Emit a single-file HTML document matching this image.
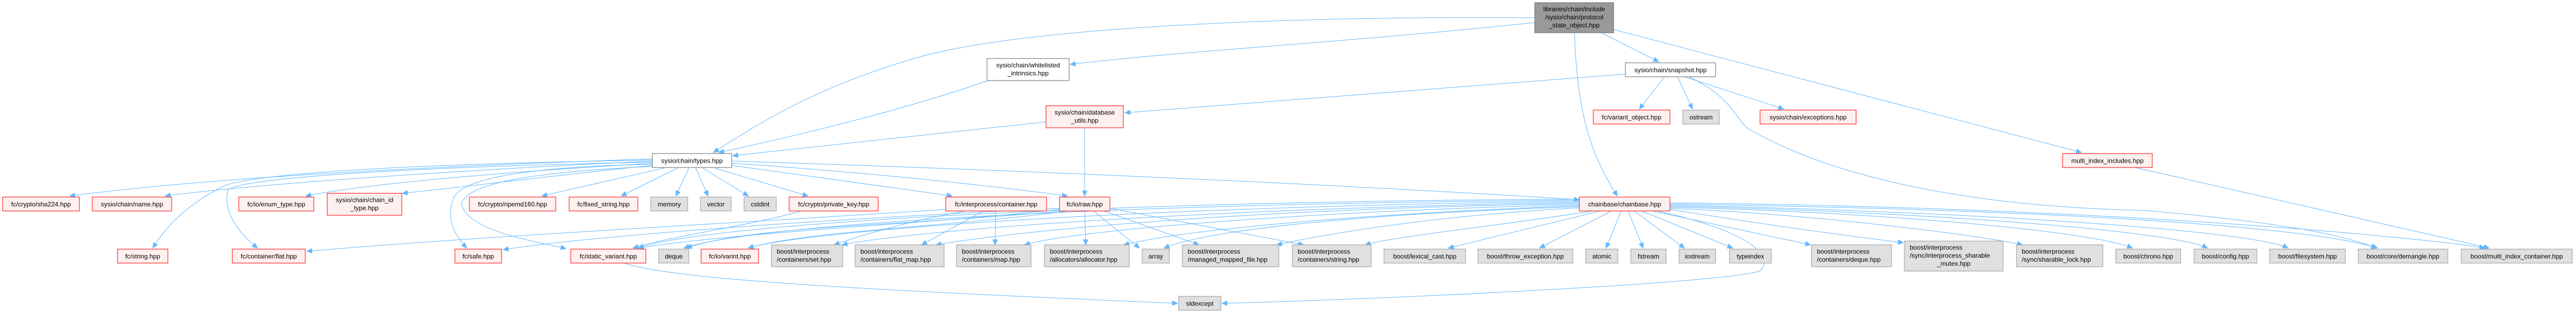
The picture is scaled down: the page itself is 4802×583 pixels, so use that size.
<!DOCTYPE html>
<html><head><meta charset="utf-8"><style>
html,body{margin:0;padding:0;background:#fff;}
svg{display:block;}
text{font-family:"Liberation Sans",Arial,sans-serif;font-size:12px;fill:#000;}
.r{fill:#fff0f0;stroke:#ff0000;stroke-width:1;}
.g{fill:#e0e0e0;stroke:#999999;stroke-width:1;}
.w{fill:#ffffff;stroke:#666666;stroke-width:1;}
.t{fill:#999999;stroke:#666666;stroke-width:1;}
path{fill:none;stroke:#63b8ff;stroke-width:1;}
</style></head><body>
<svg width="4802" height="583" viewBox="0 0 4802 583" xmlns="http://www.w3.org/2000/svg">
<defs><marker id="a" markerUnits="userSpaceOnUse" markerWidth="11" markerHeight="9" refX="10" refY="4.5" orient="auto"><path d="M0,0 L10,4.5 L0,9 Z" style="fill:#63b8ff;stroke:#63b8ff"/></marker></defs>
<g marker-end="url(#a)">
<path d="M2861,33 C2400,30 1900,50 1700,110 C1500,170 1400,240 1330,284"/>
<path d="M2861,42 C2500,80 2200,95 1995,120"/>
<path d="M2987,62 L3092,115"/>
<path d="M2935,62 C2940,200 2960,280 3015,365"/>
<path d="M3008,55 L3880,284"/>
<path d="M1842,150 C1700,200 1500,250 1340,284"/>
<path d="M1950,227 L1366,290"/>
<path d="M3030,138 L2097,210"/>
<path d="M3103,143 L3056,203"/>
<path d="M3127,143 L3155,203"/>
<path d="M3140,143 L3325,203"/>
<path d="M3148,143 C3230,180 3240,230 3260,240 C3500,380 3900,390 4000,392 C4200,410 4350,430 4430,462"/>
<path d="M2022,238 L2022,365"/>
<path d="M3980,312 L4640,462"/>
<path d="M1216,296 C800,310 400,330 130,365"/>
<path d="M1216,300 C900,315 500,340 308,365"/>
<path d="M1216,304 C950,320 700,340 570,365"/>
<path d="M1216,308 C1050,325 850,350 750,360"/>
<path d="M1216,298 C800,305 500,320 420,345 C350,380 310,420 285,462"/>
<path d="M1216,302 C800,310 440,330 425,355 C415,390 440,430 480,462"/>
<path d="M1238,313 L1010,365"/>
<path d="M1263,313 L1158,365"/>
<path d="M1284,313 L1260,365"/>
<path d="M1297,313 L1320,365"/>
<path d="M1310,313 L1395,365"/>
<path d="M1332,313 L1506,365"/>
<path d="M1364,308 L1775,365"/>
<path d="M1364,304 C1600,320 1800,340 1990,365"/>
<path d="M1364,300 C2000,320 2600,350 2944,372"/>
<path d="M1216,306 C1000,310 860,330 845,370 C830,410 850,440 870,462"/>
<path d="M1216,310 C1000,320 870,340 860,380 C870,430 1000,450 1055,463"/>
<path d="M1493,393 C1400,420 1250,440 1180,462"/>
<path d="M1763,390 C1300,420 900,440 572,468"/>
<path d="M1833,393 L1718,456"/>
<path d="M1856,393 L1855,456"/>
<path d="M1800,393 C1700,410 1600,440 1555,456"/>
<path d="M2022,393 L2024,456"/>
<path d="M2038,393 L2124,462"/>
<path d="M2058,393 L2235,456"/>
<path d="M2069,388 L2430,456"/>
<path d="M1990,393 C1800,420 1500,430 1395,462"/>
<path d="M1980,393 C1700,420 1400,420 1280,462"/>
<path d="M1975,390 C1700,420 1400,430 1190,462"/>
<path d="M1975,388 C1500,410 1100,440 938,465"/>
<path d="M2968,393 C2800,420 2600,440 2545,456"/>
<path d="M2983,393 L2700,462"/>
<path d="M3004,393 L2870,462"/>
<path d="M3022,393 L2994,462"/>
<path d="M3035,393 L3063,462"/>
<path d="M3046,393 L3140,462"/>
<path d="M3060,393 L3230,462"/>
<path d="M3080,393 L3375,456"/>
<path d="M3113,390 C3300,420 3450,440 3548,452"/>
<path d="M3113,388 C3400,400 3700,440 3770,456"/>
<path d="M3113,386 C3500,395 3900,430 3975,462"/>
<path d="M3113,384 C3600,395 4050,430 4115,462"/>
<path d="M3113,382 C3700,395 4200,430 4265,462"/>
<path d="M3113,380 C3800,390 4300,420 4432,462"/>
<path d="M3113,378 C3900,385 4500,440 4632,462"/>
<path d="M3090,393 C3300,440 3300,490 3280,505 C3200,530 2500,560 2278,565"/>
<path d="M2944,385 C2500,400 2250,430 2170,462"/>
<path d="M2944,387 C2700,400 2500,430 2380,456"/>
<path d="M2944,383 C2500,400 2200,430 2095,456"/>
<path d="M2944,381 C2400,395 2000,430 1910,456"/>
<path d="M2944,379 C2300,390 1900,430 1745,456"/>
<path d="M2944,377 C2200,390 1700,430 1570,456"/>
<path d="M2944,375 C2100,385 1500,430 1395,462"/>
<path d="M2944,373 C2000,380 1400,420 1275,462"/>
<path d="M2944,371 C2000,375 1300,420 1190,462"/>
<path d="M1164,490 C1250,520 1600,540 2195,565"/>
</g>

<rect class="t" x="2861" y="5" width="147" height="56"/>
<text x="2934.5" y="21" text-anchor="middle">libraries/chain/include</text>
<text x="2934.5" y="36" text-anchor="middle">/sysio/chain/protocol</text>
<text x="2934.5" y="51" text-anchor="middle">_state_object.hpp</text>

<rect class="w" x="1840" y="109" width="153" height="41"/>
<text x="1916.5" y="125.5" text-anchor="middle">sysio/chain/whitelisted</text>
<text x="1916.5" y="140.5" text-anchor="middle">_intrinsics.hpp</text>

<rect class="w" x="3030" y="117" width="168" height="26"/>
<text x="3114" y="134.5" text-anchor="middle">sysio/chain/snapshot.hpp</text>

<rect class="r" x="1950" y="197" width="144" height="41"/>
<text x="2022" y="213.5" text-anchor="middle">sysio/chain/database</text>
<text x="2022" y="228.5" text-anchor="middle">_utils.hpp</text>

<rect class="r" x="2970" y="205" width="143" height="26"/>
<text x="3041.5" y="222.5" text-anchor="middle">fc/variant_object.hpp</text>
<rect class="g" x="3137" y="205" width="68" height="26"/>
<text x="3171" y="222.5" text-anchor="middle">ostream</text>
<rect class="r" x="3281" y="205" width="179" height="26"/>
<text x="3370.5" y="222.5" text-anchor="middle">sysio/chain/exceptions.hpp</text>

<rect class="w" x="1216" y="286" width="148" height="26"/>
<text x="1290" y="303.5" text-anchor="middle">sysio/chain/types.hpp</text>
<rect class="r" x="3845" y="286" width="167" height="26"/>
<text x="3928.5" y="303.5" text-anchor="middle">multi_index_includes.hpp</text>

<rect class="r" x="5" y="367" width="143" height="26"/>
<text x="76.5" y="384.5" text-anchor="middle">fc/crypto/sha224.hpp</text>
<rect class="r" x="172" y="367" width="148" height="26"/>
<text x="246" y="384.5" text-anchor="middle">sysio/chain/name.hpp</text>
<rect class="r" x="445" y="367" width="140" height="26"/>
<text x="515" y="384.5" text-anchor="middle">fc/io/enum_type.hpp</text>
<rect class="r" x="610" y="360" width="139" height="41"/>
<text x="679.5" y="376.5" text-anchor="middle">sysio/chain/chain_id</text>
<text x="679.5" y="391.5" text-anchor="middle">_type.hpp</text>
<rect class="r" x="875" y="367" width="161" height="26"/>
<text x="955.5" y="384.5" text-anchor="middle">fc/crypto/ripemd160.hpp</text>
<rect class="r" x="1061" y="367" width="128" height="26"/>
<text x="1125" y="384.5" text-anchor="middle">fc/fixed_string.hpp</text>
<rect class="g" x="1213" y="367" width="69" height="26"/>
<text x="1247.5" y="384.5" text-anchor="middle">memory</text>
<rect class="g" x="1306" y="367" width="57" height="26"/>
<text x="1334.5" y="384.5" text-anchor="middle">vector</text>
<rect class="g" x="1387" y="367" width="60" height="26"/>
<text x="1417" y="384.5" text-anchor="middle">cstdint</text>
<rect class="r" x="1471" y="367" width="166" height="26"/>
<text x="1554" y="384.5" text-anchor="middle">fc/crypto/private_key.hpp</text>
<rect class="r" x="1763" y="367" width="188" height="26"/>
<text x="1857" y="384.5" text-anchor="middle">fc/interprocess/container.hpp</text>
<rect class="r" x="1975" y="367" width="94" height="26"/>
<text x="2022" y="384.5" text-anchor="middle">fc/io/raw.hpp</text>
<rect class="r" x="2944" y="367" width="169" height="26"/>
<text x="3028.5" y="384.5" text-anchor="middle">chainbase/chainbase.hpp</text>

<rect class="r" x="219" y="464" width="94" height="26"/>
<text x="266" y="481.5" text-anchor="middle">fc/string.hpp</text>
<rect class="r" x="433" y="464" width="136" height="26"/>
<text x="501" y="481.5" text-anchor="middle">fc/container/flat.hpp</text>
<rect class="r" x="848" y="464" width="87" height="26"/>
<text x="891.5" y="481.5" text-anchor="middle">fc/safe.hpp</text>
<rect class="r" x="1064" y="464" width="140" height="26"/>
<text x="1134" y="481.5" text-anchor="middle">fc/static_variant.hpp</text>
<rect class="g" x="1228" y="464" width="56" height="26"/>
<text x="1256" y="481.5" text-anchor="middle">deque</text>
<rect class="r" x="1307" y="464" width="107" height="26"/>
<text x="1360.5" y="481.5" text-anchor="middle">fc/io/varint.hpp</text>

<rect class="g" x="1438" y="456" width="133" height="41"/>
<text x="1448" y="472.5">boost/interprocess</text><text x="1448" y="487.5">/containers/set.hpp</text>
<rect class="g" x="1594" y="456" width="166" height="41"/>
<text x="1604" y="472.5">boost/interprocess</text><text x="1604" y="487.5">/containers/flat_map.hpp</text>
<rect class="g" x="1783" y="456" width="139" height="41"/>
<text x="1793" y="472.5">boost/interprocess</text><text x="1793" y="487.5">/containers/map.hpp</text>
<rect class="g" x="1947" y="456" width="158" height="41"/>
<text x="1957" y="472.5">boost/interprocess</text><text x="1957" y="487.5">/allocators/allocator.hpp</text>
<rect class="g" x="2129" y="464" width="51" height="26"/>
<text x="2154.5" y="481.5" text-anchor="middle">array</text>
<rect class="g" x="2204" y="456" width="180" height="41"/>
<text x="2214" y="472.5">boost/interprocess</text><text x="2214" y="487.5">/managed_mapped_file.hpp</text>
<rect class="g" x="2409" y="456" width="147" height="41"/>
<text x="2419" y="472.5">boost/interprocess</text><text x="2419" y="487.5">/containers/string.hpp</text>
<rect class="g" x="2580" y="464" width="152" height="26"/>
<text x="2656" y="481.5" text-anchor="middle">boost/lexical_cast.hpp</text>
<rect class="g" x="2755" y="464" width="177" height="26"/>
<text x="2843.5" y="481.5" text-anchor="middle">boost/throw_exception.hpp</text>
<rect class="g" x="2956" y="464" width="60" height="26"/>
<text x="2986" y="481.5" text-anchor="middle">atomic</text>
<rect class="g" x="3040" y="464" width="66" height="26"/>
<text x="3073" y="481.5" text-anchor="middle">fstream</text>
<rect class="g" x="3130" y="464" width="68" height="26"/>
<text x="3164" y="481.5" text-anchor="middle">iostream</text>
<rect class="g" x="3224" y="464" width="78" height="26"/>
<text x="3263" y="481.5" text-anchor="middle">typeindex</text>
<rect class="g" x="3377" y="456" width="149" height="41"/>
<text x="3387" y="472.5">boost/interprocess</text><text x="3387" y="487.5">/containers/deque.hpp</text>
<rect class="g" x="3550" y="449" width="184" height="56"/>
<text x="3560" y="465">boost/interprocess</text><text x="3560" y="480">/sync/interprocess_sharable</text><text x="3642" y="495" text-anchor="middle">_mutex.hpp</text>
<rect class="g" x="3759" y="456" width="161" height="41"/>
<text x="3769" y="472.5">boost/interprocess</text><text x="3769" y="487.5">/sync/sharable_lock.hpp</text>
<rect class="g" x="3944" y="464" width="121" height="26"/>
<text x="4004.5" y="481.5" text-anchor="middle">boost/chrono.hpp</text>
<rect class="g" x="4090" y="464" width="117" height="26"/>
<text x="4148.5" y="481.5" text-anchor="middle">boost/config.hpp</text>
<rect class="g" x="4231" y="464" width="141" height="26"/>
<text x="4301.5" y="481.5" text-anchor="middle">boost/filesystem.hpp</text>
<rect class="g" x="4396" y="464" width="167" height="26"/>
<text x="4479.5" y="481.5" text-anchor="middle">boost/core/demangle.hpp</text>
<rect class="g" x="4588" y="464" width="207" height="26"/>
<text x="4691.5" y="481.5" text-anchor="middle">boost/multi_index_container.hpp</text>

<rect class="g" x="2197" y="552" width="79" height="26"/>
<text x="2236.5" y="569.5" text-anchor="middle">stdexcept</text>
</svg>
</body></html>
